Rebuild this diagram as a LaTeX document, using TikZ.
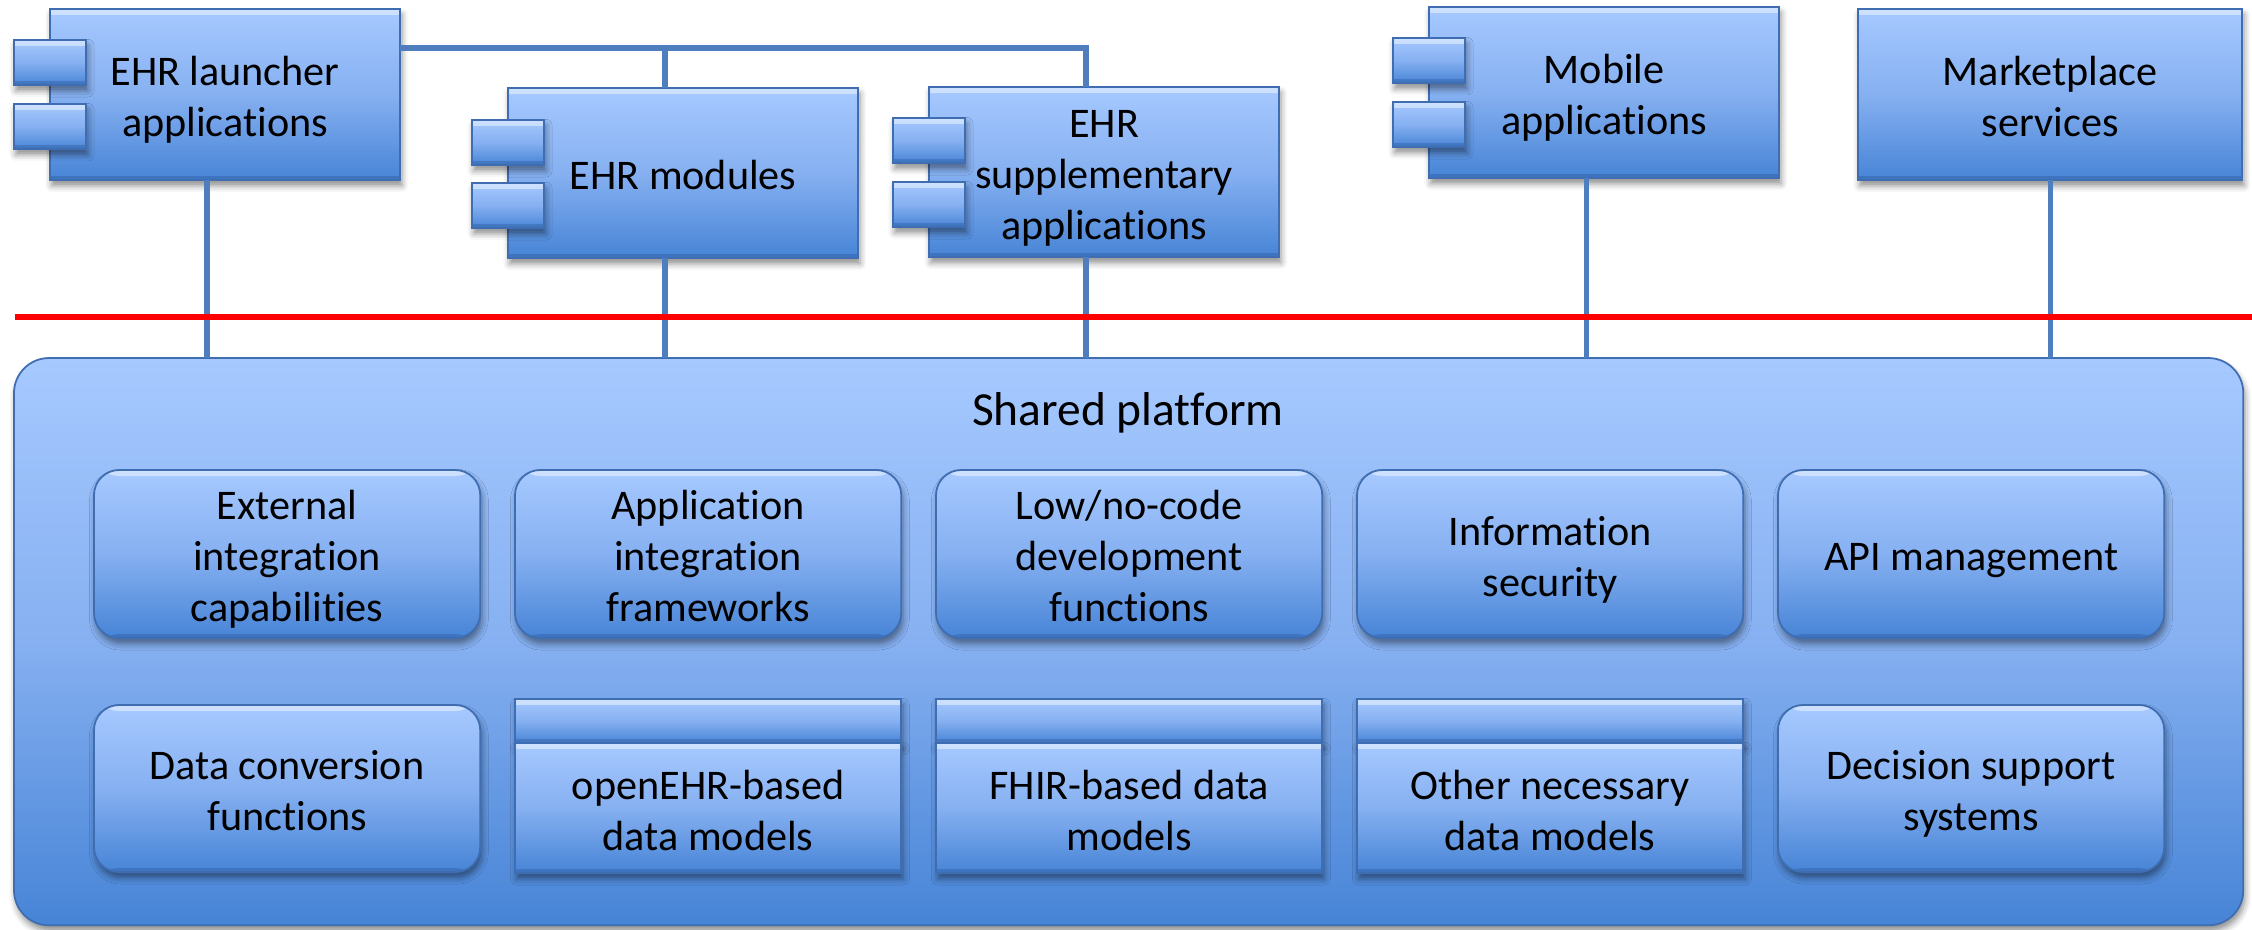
\documentclass[tikz,border=0pt]{standalone}
\usepackage{fontspec}
\setmainfont{Carlito}[Ligatures=NoCommon]
\usetikzlibrary{shadows.blur}
\definecolor{lb}{HTML}{A6C9FF}
\definecolor{mb}{HTML}{86B0F1}
\definecolor{db}{HTML}{4784D6}
\definecolor{edgeblue}{HTML}{3E6DB2}
\definecolor{darkedge}{HTML}{2A5595}
\definecolor{connblue}{HTML}{4F7EBF}
\definecolor{sepred}{HTML}{FF0000}
\newcommand{\myboxfont}{\fontsize{12}{14.5}\selectfont}
\newcommand{\mytitlefont}{\fontsize{13.5}{16}\selectfont}
\newcommand{\ms}{\rule{0pt}{0.43cm}}
\newcommand{\me}{\rule[-0.1cm]{0pt}{0.1cm}}
\tikzset{
  gloss/.style={top color=lb, bottom color=db, middle color=mb, draw=edgeblue, line width=0.5pt},
  bevel/.style={path picture={
     \fill[white,opacity=0.45] (path picture bounding box.north west) rectangle ([yshift=-0.06cm]path picture bounding box.north east);
     \fill[darkedge,opacity=0.35] (path picture bounding box.south west) rectangle ([yshift=0.04cm]path picture bounding box.south east);}},
  shad/.style={blur shadow={shadow xshift=0.5pt, shadow yshift=-1.6pt, shadow blur radius=1.8pt, shadow opacity=45}},
  compframe/.style={rectangle, inner sep=0pt, outer sep=0pt, anchor=north west},
  compbody/.style={gloss, bevel, shad, rectangle, inner sep=0pt, outer sep=0pt, anchor=north west, align=center, font=\myboxfont, text=black},
  comptab/.style={gloss, bevel, shad, rectangle, inner sep=0pt, outer sep=0pt, anchor=north west, minimum width=0.72cm, minimum height=0.45cm},
  rbox/.style={gloss, bevel, shad, rounded corners=0.25cm, minimum width=3.86cm, anchor=north west, align=center, font=\myboxfont, inner sep=0pt, outer sep=0pt},
  sqbox/.style={gloss, bevel, shad, rectangle, minimum width=3.86cm, anchor=north west, align=center, font=\myboxfont, inner sep=0pt, outer sep=0pt},
  platformbox/.style={gloss, shad, rounded corners=0.35cm, anchor=north west, inner sep=0pt, outer sep=0pt, minimum width=22.28cm, minimum height=5.67cm},
  conn/.style={draw=connblue, line width=1.5pt},
  sepline/.style={draw=sepred, line width=1.9pt},
}
\begin{document}
\begin{tikzpicture}[x=0.01cm,y=-0.01cm]
\useasboundingbox (0,0) rectangle (2252,929);
% platform
\node[platformbox] (platform) at (14,358) {};
\node[font=\mytitlefont] (title) at (1128,413) {Shared platform};
% row 1
\node[rbox, minimum height=1.68cm] (ext) at (94,470) {\ms External\\integration\\capabilities\me};
\node[rbox, minimum height=1.68cm] (appint) at (515,470) {\ms Application\\integration\\frameworks\me};
\node[rbox, minimum height=1.68cm] (lowcode) at (936,470) {\ms Low/no-code\\development\\functions\me};
\node[rbox, minimum height=1.68cm] (infosec) at (1357,470) {\ms Information\\security\me};
\node[rbox, minimum height=1.68cm] (api) at (1778,470) {\ms API management\me};
% row 2
\node[rbox, minimum height=1.67cm] (dataconv) at (94,705) {\ms Data conversion\\functions\me};
\node[sqbox, minimum height=0.44cm] (openehrband) at (515,699) {};
\node[sqbox, minimum height=1.30cm] (openehr) at (515,743) {\ms openEHR-based\\data models\me};
\node[sqbox, minimum height=0.44cm] (fhirband) at (936,699) {};
\node[sqbox, minimum height=1.30cm] (fhir) at (936,743) {\ms FHIR-based data\\models\me};
\node[sqbox, minimum height=0.44cm] (otherband) at (1357,699) {};
\node[sqbox, minimum height=1.30cm] (other) at (1357,743) {\ms Other necessary\\data models\me};
\node[rbox, minimum height=1.67cm] (dss) at (1778,705) {\ms Decision support\\systems\me};
% components
\node[compframe, minimum width=3.86cm, minimum height=1.71cm] (launcher) at (14,9) {};
\node[compbody, minimum width=3.50cm, minimum height=1.71cm] (launcherbody) at (50,9) {\ms EHR launcher\\applications\me};
\node[comptab] (launchertabA) at (14,40) {};
\node[comptab] (launchertabB) at (14,104) {};

\node[compframe, minimum width=3.86cm, minimum height=1.70cm] (modules) at (472,88) {};
\node[compbody, minimum width=3.50cm, minimum height=1.70cm] (modulesbody) at (508,88) {\ms EHR modules\me};
\node[comptab] (modulestabA) at (472,120) {};
\node[comptab] (modulestabB) at (472,183) {};

\node[compframe, minimum width=3.86cm, minimum height=1.70cm] (supp) at (893,87) {};
\node[compbody, minimum width=3.50cm, minimum height=1.70cm] (suppbody) at (929,87) {\ms EHR\\supplementary\\applications\me};
\node[comptab] (supptabA) at (893,118) {};
\node[comptab] (supptabB) at (893,182) {};

\node[compframe, minimum width=3.86cm, minimum height=1.71cm] (mobile) at (1393,7) {};
\node[compbody, minimum width=3.50cm, minimum height=1.71cm] (mobilebody) at (1429,7) {\ms Mobile\\applications\me};
\node[comptab] (mobiletabA) at (1393,38) {};
\node[comptab] (mobiletabB) at (1393,102) {};

\node[compframe, minimum width=3.84cm, minimum height=1.71cm] (market) at (1858,9) {};
\node[compbody, minimum width=3.84cm, minimum height=1.71cm] (marketbody) at (1858,9) {\ms Marketplace\\services\me};
% connectors
\coordinate (busy) at (0,48);
\draw[conn] (launcherbody.east |- busy) -- (supp.north |- busy) -- (supp.north);
\draw[conn] (modules.north |- busy) -- (modules.north);
\foreach \n in {launcher,modules,supp,mobile,market}
  \draw[conn] (\n.south) -- (\n.south |- platform.north);
% separator
\coordinate (sepL) at (15,317);
\coordinate (sepR) at (2252,317);
\draw[sepline] (sepL) -- (sepR);
\end{tikzpicture}
\end{document}
